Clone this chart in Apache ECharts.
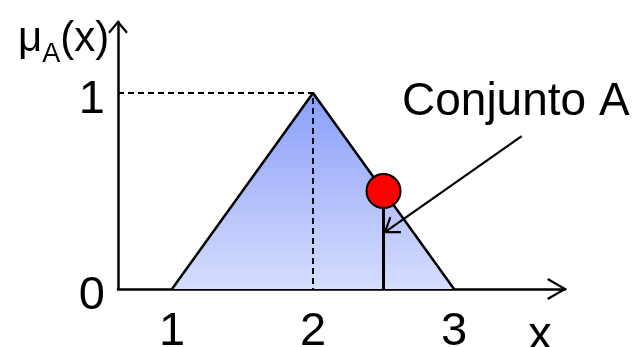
<!DOCTYPE html>
<html><head><meta charset="utf-8">
<script src="https://cdn.jsdelivr.net/npm/echarts@6/dist/echarts.min.js"></script>
<style>html,body{margin:0;padding:0;background:#fff}#c{width:641px;height:347px}</style>
</head><body><div id="c"></div>
<script>
// ---- data ----
const xTickValues = [1, 2, 3];
const yTickValues = [0, 1];
const triangleX = [1, 2, 3];
const triangleY = [0, 1, 0];
const peakX = 2, peakY = 1;
const pointX = 2.5, pointY = 0.5;
const arrowFrom = [3.48, 0.78];
const arrowTo = [2.51, 0.29];
const xMin = 0.617, xMax = 3.787, yMin = 0, yMax = 1.362;
const FONT = '"Liberation Sans", Arial, sans-serif';

const chart = echarts.init(document.getElementById('c'), null, {renderer: 'canvas'});

function chevron(tip, back, len, angDeg) {
  const n = Math.hypot(back[0], back[1]);
  const ux = back[0] / n, uy = back[1] / n;
  const a = angDeg * Math.PI / 180;
  const c = Math.cos(a), s = Math.sin(a);
  const p1 = [tip[0] + len * (ux * c - uy * s), tip[1] + len * (ux * s + uy * c)];
  const p2 = [tip[0] + len * (ux * c + uy * s), tip[1] + len * (-ux * s + uy * c)];
  return [p1, tip, p2];
}

const lineStyleBlack = {stroke: '#000', lineWidth: 2.2, fill: null};

const option = {
  animation: false,
  backgroundColor: '#fff',
  title: {
    text: '{m|μ}{s|A}{m|(x)}',
    left: 13, top: 10,
    textStyle: {
      fontWeight: 'normal',
      rich: {
        m: {fontSize: 42, fontFamily: FONT, fontWeight: 'normal', color: '#000', lineHeight: 48},
        s: {fontSize: 27, fontFamily: FONT, fontWeight: 'normal', color: '#000', lineHeight: 27, verticalAlign: 'bottom', padding: [0, 0, -5, 0]}
      }
    }
  },
  graphic: [{
    type: 'text', left: 402, top: 79,
    style: {text: 'Conjunto A', font: '46px "Liberation Sans", Arial, sans-serif', fill: '#000'}
  }],
  grid: {left: 118, right: 76, top: 22, bottom: 58, outerBoundsMode: 'none', containLabel: false},
  xAxis: {
    type: 'value', min: xMin, max: xMax,
    splitLine: {show: false},
    axisTick: {show: false},
    axisLine: {show: true, onZero: false, lineStyle: {color: '#000', width: 2.5}},
    axisLabel: {customValues: xTickValues, fontSize: 47, fontFamily: FONT, color: '#000', margin: 20},
    name: 'x', nameLocation: 'end', nameGap: -25,
    nameTextStyle: {fontSize: 47, fontFamily: FONT, color: '#000', align: 'center', verticalAlign: 'top', padding: [24, 0, 0, 0]}
  },
  yAxis: {
    type: 'value', min: yMin, max: yMax,
    splitLine: {show: false},
    axisTick: {show: false},
    axisLine: {show: true, onZero: false, lineStyle: {color: '#000', width: 2.5}},
    axisLabel: {customValues: yTickValues, fontSize: 47, fontFamily: FONT, color: '#000', margin: 13, verticalAlign: 'top', lineHeight: 14}
  },
  series: [
    {
      type: 'line', name: 'Conjunto A',
      data: triangleX.map((x, i) => [x, triangleY[i]]),
      symbol: 'none', z: 3,
      lineStyle: {color: '#000', width: 2.5},
      areaStyle: {
        opacity: 1,
        color: new echarts.graphic.LinearGradient(0, 0, 0, 1, [
          {offset: 0, color: 'rgb(138,158,250)'},
          {offset: 1, color: 'rgb(214,221,253)'}
        ])
      }
    },
    {
      type: 'line', name: 'guide',
      data: [[xMin, peakY], [peakX, peakY], [peakX, yMin]],
      symbol: 'none', z: 4,
      lineStyle: {color: '#000', width: 2, type: [6, 4]}
    },
    {
      type: 'line', name: 'stem',
      data: [[pointX, 0], [pointX, pointY]],
      symbol: 'none', z: 5,
      lineStyle: {color: '#000', width: 3}
    },
    {
      type: 'scatter', name: 'point',
      data: [[pointX, pointY]],
      symbolSize: 34, z: 6,
      itemStyle: {color: '#ff0000', borderColor: '#000', borderWidth: 2, opacity: 1}
    },
    {
      type: 'custom', name: 'annotation', clip: false, z: 7,
      data: [[arrowFrom[0], arrowFrom[1], arrowTo[0], arrowTo[1]]],
      encode: {x: [0, 2], y: [1, 3]},
      renderItem: function (params, api) {
        const a = api.coord([api.value(0), api.value(1)]);
        const b = api.coord([api.value(2), api.value(3)]);
        return {
          type: 'group', children: [
            {type: 'line', shape: {x1: a[0], y1: a[1], x2: b[0], y2: b[1]}, style: lineStyleBlack},
            {type: 'polyline', shape: {points: chevron(b, [a[0] - b[0], a[1] - b[1]], 16, 35)}, style: lineStyleBlack}
          ]
        };
      }
    },
    {
      type: 'custom', name: 'axisArrows', clip: false, z: 7,
      data: [[xMax, yMax]],
      renderItem: function (params, api) {
        const xe = api.coord([xMax, yMin]);
        const ye = api.coord([xMin, yMax]);
        return {
          type: 'group', children: [
            {type: 'polyline', shape: {points: chevron(xe, [-1, 0], 20, 30)}, style: lineStyleBlack},
            {type: 'polyline', shape: {points: chevron(ye, [0, 1], 14, 40)}, style: lineStyleBlack}
          ]
        };
      }
    }
  ]
};
chart.setOption(option);
</script></body></html>
